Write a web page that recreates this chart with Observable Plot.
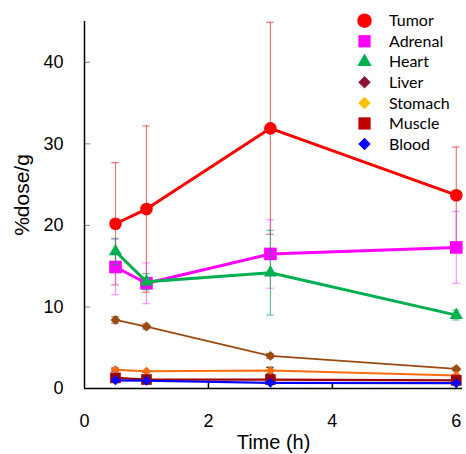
<!DOCTYPE html>
<html><head><meta charset="utf-8">
<script src="https://cdn.jsdelivr.net/npm/d3@7"></script>
<script src="https://cdn.jsdelivr.net/npm/@observablehq/plot@0.6"></script>
<style>
body{margin:0;background:#fff}
#wrap{position:relative;width:466px;height:454px}
#legend{position:absolute;left:0;top:0}
</style>
</head><body><div id="wrap"></div>
<script>
const times = [0.5, 1, 3, 6];
const seriesNames = ["Tumor", "Adrenal", "Heart", "Liver", "Stomach", "Muscle", "Blood"];
const tumor = [20.2, 22.0, 31.9, 23.7];
const tumorErr = [7.5, 10.2, 13.0, 5.9];
const adrenal = [14.9, 12.9, 16.5, 17.3];
const adrenalErr = [3.4, 2.5, 4.2, 4.4];
const heart = [16.8, 13.1, 14.2, 9.0];
const heartErr = [1.6, 1.0, 5.2, 0.6];
const liver = [8.4, 7.6, 4.0, 2.4];
const liverErr = [0.4, 0.3, 0.3, 0.2];
const stomach = [2.3, 2.1, 2.2, 1.6];
const stomachErr = [0.2, 0.1, 0.4, 0.1];
const muscle = [1.3, 1.1, 1.1, 1.0];
const muscleErr = [0.1, 0.1, 0.1, 0.1];
const blood = [1.0, 0.95, 0.7, 0.65];
const bloodErr = [0.1, 0.1, 0.1, 0.1];
const xTicks = [0, 2, 4, 6];
const yTicks = [0, 10, 20, 30, 40];

const values = [tumor, adrenal, heart, liver, stomach, muscle, blood];
const errors = [tumorErr, adrenalErr, heartErr, liverErr, stomachErr, muscleErr, bloodErr];

const styles = [
  {color: "#ff0000", err: "rgba(225,50,50,0.65)", symbol: "circle", r: 6.3, sw: 3, lfill: "#ff0000", lsym: d3.symbolCircle, lsize: 165},
  {color: "#ff00ff", err: "rgba(255,60,255,0.55)", symbol: "square", r: 7.1, sw: 3, lfill: "#ff00ff", lsym: d3.symbolSquare, lsize: 150},
  {color: "#00b050", err: "rgba(0,160,70,0.6)", symbol: "triangle", r: 4.9, sw: 3, lfill: "#00b050", lsym: d3.symbolTriangle, lsize: 90},
  {color: "#9c4a12", err: "rgba(120,50,10,0.7)", symbol: "diamond2", r: 4.5, sw: 1.8, lfill: "#8b1436", lsym: d3.symbolDiamond2, lsize: 100},
  {color: "#ff6a10", err: "rgba(0,0,0,0.8)", symbol: "diamond2", r: 4.2, sw: 2, lfill: "#ffc000", lsym: d3.symbolDiamond2, lsize: 100},
  {color: "#a00000", err: "rgba(120,0,0,0.6)", symbol: "square", r: 6.0, sw: 2.2, lfill: "#c00000", lsym: d3.symbolSquare, lsize: 150},
  {color: "#0000ff", err: "rgba(0,0,200,0.5)", symbol: "diamond2", r: 4.5, sw: 2.2, lfill: "#0000ff", lsym: d3.symbolDiamond2, lsize: 100}
];

const marks = [];
seriesNames.forEach((name, i) => {
  const rows = times.map((t, j) => ({t, v: values[i][j], e: errors[i][j]}));
  const s = styles[i];
  marks.push(
    Plot.ruleX(rows, {x: "t", y1: d => d.v - d.e, y2: d => d.v + d.e, stroke: s.err, strokeWidth: 1.2}),
    Plot.ruleY(rows, {y: d => d.v + d.e, x1: d => d.t - 0.06, x2: d => d.t + 0.06, stroke: s.err, strokeWidth: 1.2}),
    Plot.ruleY(rows, {y: d => d.v - d.e, x1: d => d.t - 0.06, x2: d => d.t + 0.06, stroke: s.err, strokeWidth: 1.2}),
    Plot.line(rows, {x: "t", y: "v", stroke: s.color, strokeWidth: s.sw}),
    Plot.dot(rows, {x: "t", y: "v", symbol: s.symbol, r: s.r, fill: s.color, stroke: "none"})
  );
});

const chart = Plot.plot({
  width: 466, height: 454,
  marginLeft: 84, marginRight: 4, marginTop: 21, marginBottom: 66,
  style: {fontFamily: "Liberation Sans, Arial, sans-serif", background: "#fff", color: "#000"},
  x: {domain: [0, 6.1]},
  y: {domain: [0, 45]},
  marks: [
    Plot.axisY({ticks: yTicks, tickFormat: "d", tickSize: 0, tickPadding: 21, fontSize: 18, label: null}),
    Plot.axisX({ticks: xTicks, tickFormat: "d", tickSize: 0, tickPadding: 26, fontSize: 18, label: null}),
    Plot.ruleY(yTicks.slice(1), {y: d => d, x1: 0, x2: 0.1, stroke: "#888", strokeWidth: 1}),
    Plot.ruleX(xTicks.slice(1), {x: d => d, y1: 0, y2: 0.7, stroke: "#000", strokeWidth: 1.5}),
    ...marks,
    Plot.ruleX([0], {stroke: "#000", strokeWidth: 1.5}),
    Plot.ruleY([0], {stroke: "#000", strokeWidth: 1.5}),
    Plot.text(["Time (h)"], {frameAnchor: "bottom", dy: 60, fontSize: 20, fill: "#000"}),
    Plot.text(["%dose/g"], {frameAnchor: "left", textAnchor: "middle", dx: -62, dy: -10, rotate: -90, fontSize: 21, fill: "#000"})
  ]
});
const wrap = document.getElementById("wrap");
wrap.appendChild(chart);

// legend overlay
const leg = d3.select(wrap).append("svg").attr("id", "legend").attr("width", 466).attr("height", 454);
seriesNames.forEach((name, i) => {
  const s = styles[i];
  const y = 20.7 + i * 20.55;
  leg.append("path").attr("transform", `translate(364.5,${y})`).attr("d", d3.symbol(s.lsym, s.lsize)()).attr("fill", s.lfill);
  leg.append("text").attr("x", 389).attr("y", y).attr("dy", "0.35em").attr("font-family", "Lato, sans-serif").attr("font-size", 16).text(name);
});
</script>
</body></html>
